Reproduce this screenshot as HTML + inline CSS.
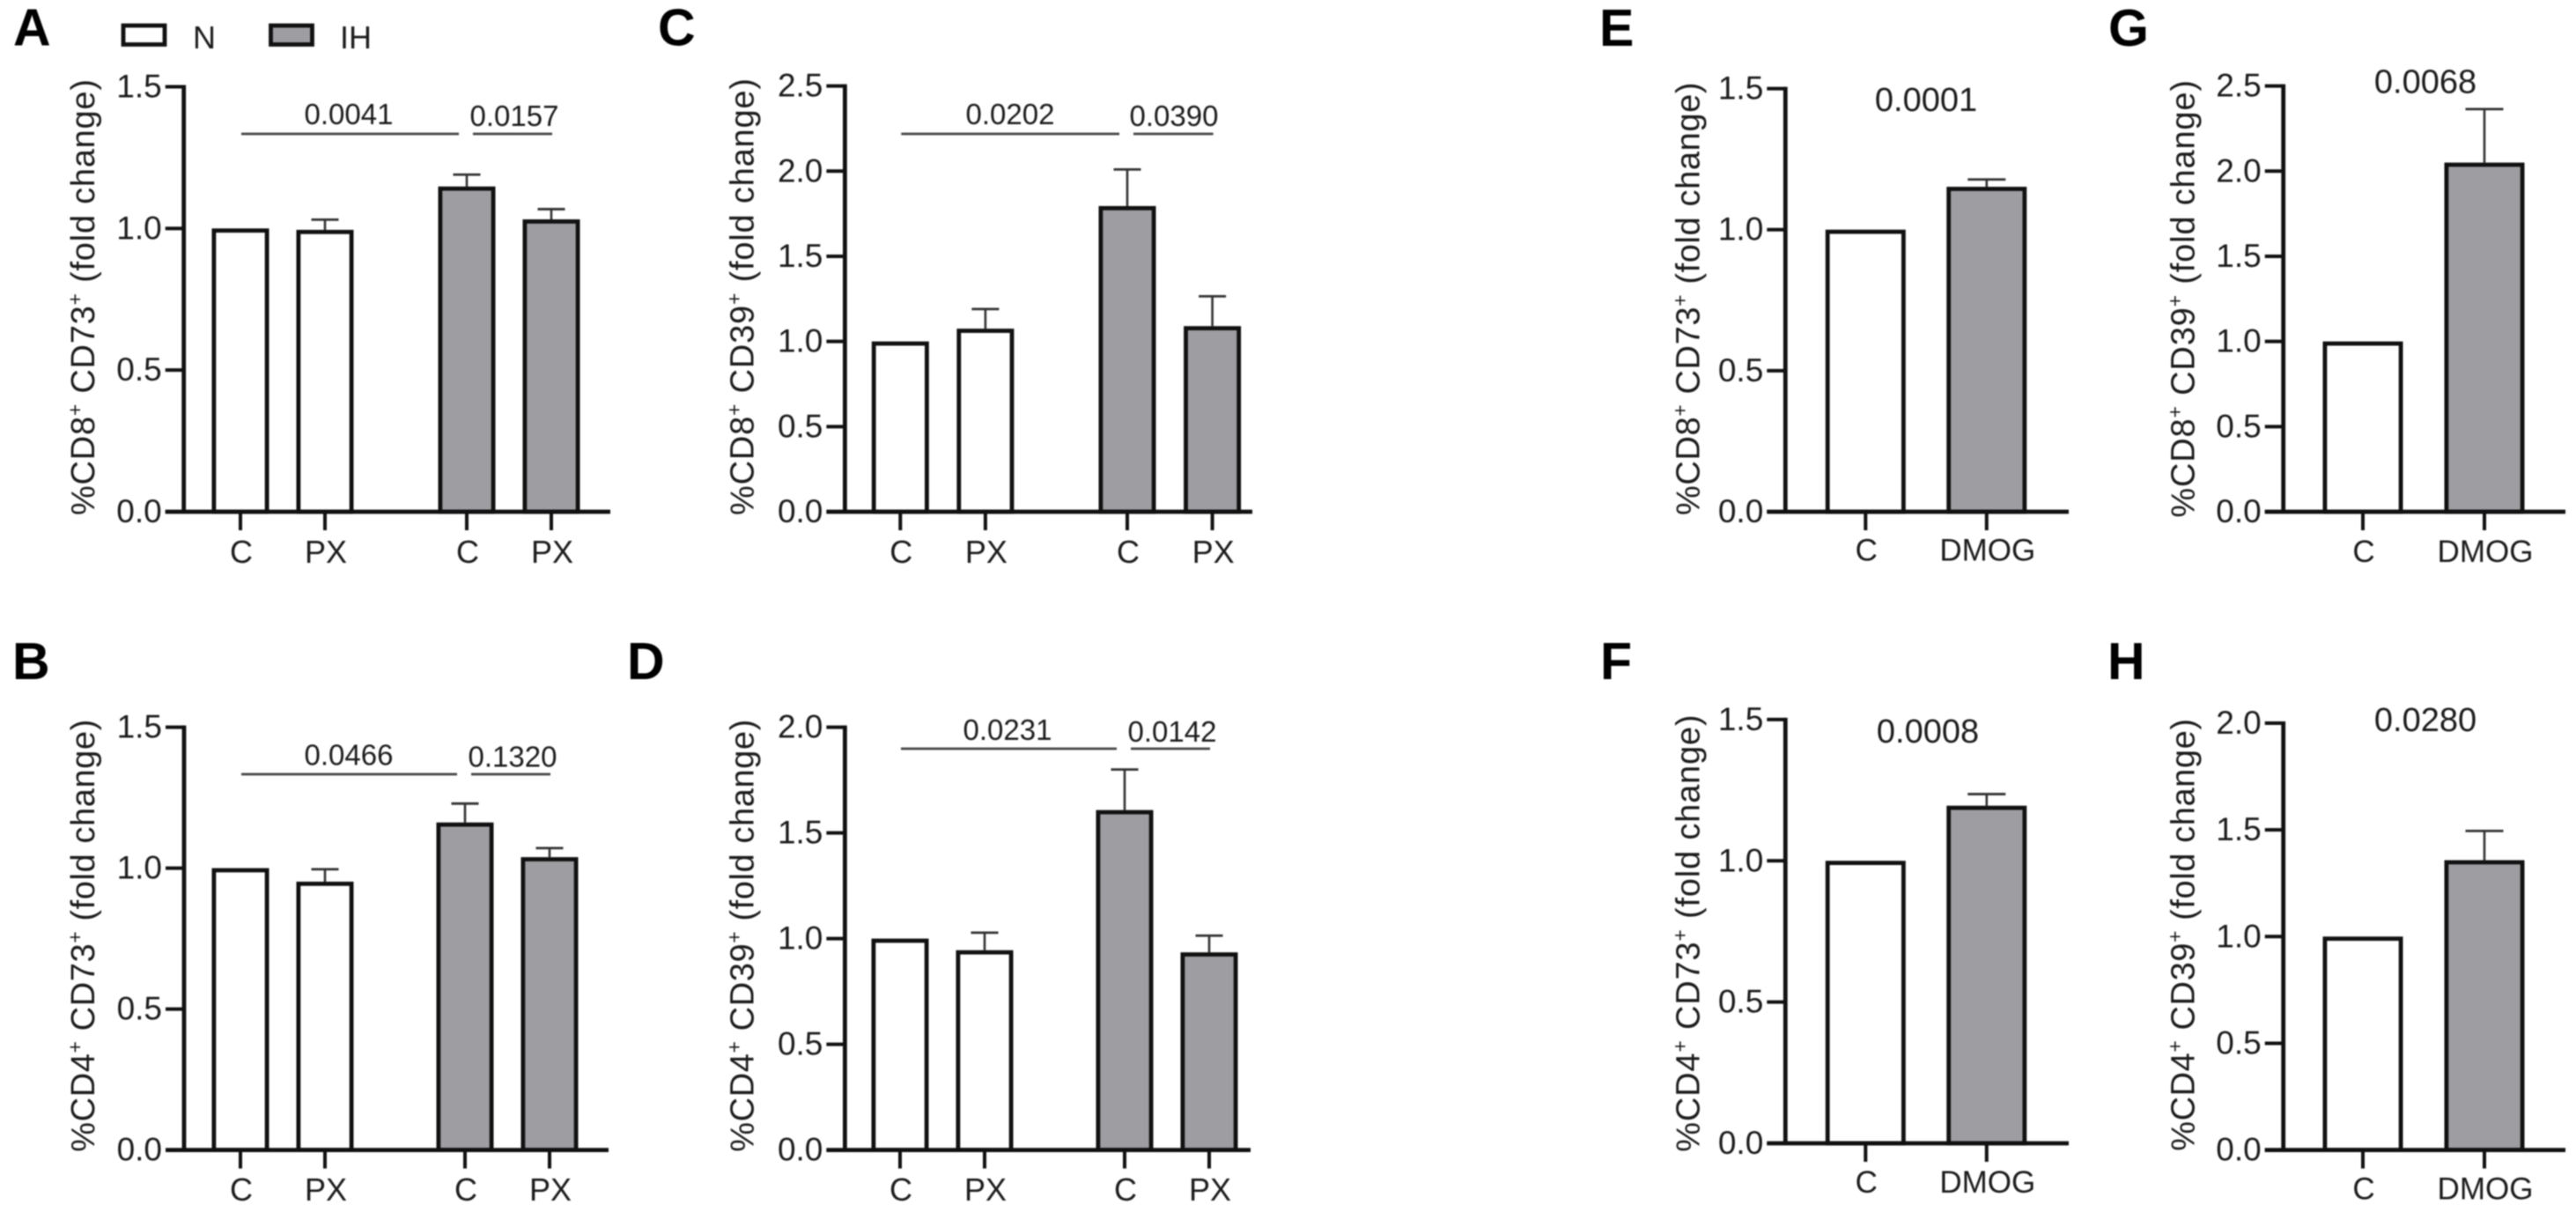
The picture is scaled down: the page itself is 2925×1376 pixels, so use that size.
<!DOCTYPE html>
<html lang="en">
<head>
<meta charset="utf-8">
<title>CD73 and CD39 fold change bar charts</title>
<style>
  html, body { margin: 0; padding: 0; background: #fff; }
  svg { display: block; filter: blur(0.7px); }
  text { font-family: "Liberation Sans", Arial, sans-serif; fill: #1c1c1c; }
  .letter { font-weight: 700; font-size: 59px; fill: #000; }
</style>
</head>
<body>
<svg id="figure" xmlns="http://www.w3.org/2000/svg" width="2925" height="1376" viewBox="0 0 2925 1376">
  <rect x="0" y="0" width="2925" height="1376" fill="#fff"/>

  <g>
    <rect x="140" y="29" width="47" height="21.5" fill="#fff" stroke="#111" stroke-width="4.8"/>
    <text x="219" y="55" font-size="36">N</text>
    <rect x="307.5" y="29" width="47" height="21.5" fill="#9e9ea2" stroke="#111" stroke-width="4.8"/>
    <text x="386" y="55" font-size="36">IH</text>
  </g>

  <text class="letter" x="15" y="51.5">A</text>
  <text class="letter" x="14" y="771">B</text>
  <text class="letter" x="747" y="51.5">C</text>
  <text class="letter" x="712" y="771">D</text>
  <text class="letter" x="1816" y="52">E</text>
  <text class="letter" x="1817" y="771">F</text>
  <text class="letter" x="2394" y="52">G</text>
  <text class="letter" x="2393" y="771">H</text>

  <g id="panel-a"></g>
  <g id="panel-b"></g>
  <g id="panel-c"></g>
  <g id="panel-d"></g>
  <g id="panel-e"></g>
  <g id="panel-f"></g>
  <g id="panel-g"></g>
  <g id="panel-h"></g>
</svg>

<script>
// ---- categories and tick labels ----
const pxCategories = ['C', 'PX', 'C', 'PX'];
const pxGroups = ['N', 'N', 'IH', 'IH'];
const dmogCategories = ['C', 'DMOG'];
const dmogGroups = ['N', 'IH'];
const ticks15 = ['0.0', '0.5', '1.0', '1.5'];
const ticks20 = ['0.0', '0.5', '1.0', '1.5', '2.0'];
const ticks25 = ['0.0', '0.5', '1.0', '1.5', '2.0', '2.5'];

// ---- series values (mean) and upper error limits ----
const panelAValues = [1.0, 0.995, 1.148, 1.032];
const panelAErrors = [null, 1.031, 1.19, 1.068];
const panelAPValues = ['0.0041', '0.0157'];

const panelBValues = [1.0, 0.952, 1.162, 1.039];
const panelBErrors = [null, 0.996, 1.229, 1.071];
const panelBPValues = ['0.0466', '0.1320'];

const panelCValues = [1.0, 1.075, 1.795, 1.09];
const panelCErrors = [null, 1.19, 2.01, 1.265];
const panelCPValues = ['0.0202', '0.0390'];

const panelDValues = [1.0, 0.945, 1.608, 0.935];
const panelDErrors = [null, 1.028, 1.80, 1.014];
const panelDPValues = ['0.0231', '0.0142'];

const panelEValues = [1.0, 1.152];
const panelEErrors = [null, 1.178];
const panelEPValues = ['0.0001'];

const panelFValues = [1.0, 1.195];
const panelFErrors = [null, 1.236];
const panelFPValues = ['0.0008'];

const panelGValues = [1.0, 2.05];
const panelGErrors = [null, 2.364];
const panelGPValues = ['0.0068'];

const panelHValues = [1.0, 1.358];
const panelHErrors = [null, 1.495];
const panelHPValues = ['0.0280'];

// ---- drawing helpers ----
const NS = 'http://www.w3.org/2000/svg';
const groupFill = { N: '#ffffff', IH: '#9e9ea2' };

function make(tag, attrs, parent) {
  const el = document.createElementNS(NS, tag);
  for (const k in attrs) el.setAttribute(k, attrs[k]);
  parent.appendChild(el);
  return el;
}

function drawPanel(id, data, layout) {
  const root = document.getElementById(id);
  const yScale = function (v) {
    return layout.yBase - (v / data.yMax) * (layout.yBase - layout.yTop);
  };
  const xScale = function (i) {
    return layout.first + i * layout.step + (i >= 2 ? layout.gap : 0);
  };
  const inset = 2.4;

  // bars
  data.values.forEach(function (v, i) {
    const cx = xScale(i);
    const w = layout.barWidth;
    const top = yScale(v);
    const err = data.errors[i];
    if (err !== null) {
      const stem = make('line', { x1: cx, x2: cx, y1: yScale(err), y2: top, stroke: '#333', 'stroke-width': 2.6 }, root);
      
      
      const cap = make('line', { x1: cx - layout.capHalf, x2: cx + layout.capHalf, y1: yScale(err), y2: yScale(err), stroke: '#333', 'stroke-width': 2.8 }, root);
      
      
    }
    const bar = make('rect', {
      x: cx - w / 2 + inset, y: top + inset,
      width: w - 2 * inset, height: layout.yBase - top - inset,
      fill: groupFill[data.groups[i]], stroke: '#111', 'stroke-width': 4.8
    }, root);
    
    

    const tick = make('line', { x1: cx, x2: cx, y1: layout.yBase, y2: layout.yBase + 21, stroke: '#111', 'stroke-width': 4 }, root);
    
    
    const label = make('text', { x: cx + 1, y: layout.xLabelY, 'text-anchor': 'middle', 'font-size': layout.xFont }, root);
    label.textContent = data.categories[i];
    
    
  });

  // axes
  const yAxis = make('line', { x1: layout.axisX, x2: layout.axisX, y1: layout.yTop - 2, y2: layout.yBase + 2, stroke: '#111', 'stroke-width': 4.8 }, root);
  
  
  const xAxis = make('line', { x1: layout.axisX - 21, x2: layout.axisRight, y1: layout.yBase, y2: layout.yBase, stroke: '#111', 'stroke-width': 4.8 }, root);
  
  

  data.ticks.forEach(function (t) {
    const y = yScale(parseFloat(t));
    const tick = make('line', { x1: layout.axisX - 21, x2: layout.axisX, y1: y, y2: y, stroke: '#111', 'stroke-width': 4 }, root);
    
    
    const label = make('text', { x: layout.axisX - 25, y: y + 12, 'text-anchor': 'end', 'font-size': 37 }, root);
    label.textContent = t;
    
    
  });

  // y axis title
  const title = make('text', {
    x: layout.titleX, y: layout.titleBottom,
    transform: 'rotate(-90 ' + layout.titleX + ' ' + layout.titleBottom + ')',
    'font-size': 38, textLength: layout.titleBottom - layout.titleTop, lengthAdjust: 'spacing'
  }, root);
  
  
  const t1 = make('tspan', {}, title);
  t1.textContent = '%' + data.cell;
  const s1 = make('tspan', { dy: -14, 'font-size': 23 }, title);
  s1.textContent = '+';
  const t2 = make('tspan', { dy: 14 }, title);
  t2.textContent = ' ' + data.marker;
  const s2 = make('tspan', { dy: -14, 'font-size': 23 }, title);
  s2.textContent = '+';
  const t3 = make('tspan', { dy: 14 }, title);
  t3.textContent = ' (fold change)';

  // significance annotations
  if (data.pValues.length === 2) {
    const first = make('line', { x1: xScale(0) + 1, x2: xScale(2) - 9, y1: layout.sigY, y2: layout.sigY, stroke: '#444', 'stroke-width': 2.8 }, root);
    
    
    const second = make('line', { x1: xScale(2) + 7, x2: xScale(3) + 1, y1: layout.sigY, y2: layout.sigY, stroke: '#444', 'stroke-width': 2.8 }, root);
    
    
    const p1 = make('text', { x: layout.pX1, y: layout.pY1, 'text-anchor': 'middle', 'font-size': 33 }, root);
    p1.textContent = data.pValues[0];
    
    
    const p2 = make('text', { x: layout.pX2, y: layout.pY2, 'text-anchor': 'middle', 'font-size': 33 }, root);
    p2.textContent = data.pValues[1];
    
    
  } else {
    const p = make('text', { x: layout.pX1, y: layout.pY1, 'text-anchor': 'middle', 'font-size': 38 }, root);
    p.textContent = data.pValues[0];
    
    
  }
}

drawPanel('panel-a',
  { values: panelAValues, errors: panelAErrors, pValues: panelAPValues, categories: pxCategories, groups: pxGroups, ticks: ticks15, yMax: 1.5, cell: 'CD8', marker: 'CD73' },
  { axisX: 208.7, axisRight: 693, yTop: 98.5, yBase: 581, first: 273, step: 96, gap: 65, barWidth: 65, capHalf: 15.5, xLabelY: 639, xFont: 36, titleX: 107, titleBottom: 585, titleTop: 90, sigY: 152, pX1: 396, pY1: 141, pX2: 584, pY2: 143 });

drawPanel('panel-b',
  { values: panelBValues, errors: panelBErrors, pValues: panelBPValues, categories: pxCategories, groups: pxGroups, ticks: ticks15, yMax: 1.5, cell: 'CD4', marker: 'CD73' },
  { axisX: 209, axisRight: 691, yTop: 825.6, yBase: 1305.6, first: 273, step: 96, gap: 63, barWidth: 65, capHalf: 15.5, xLabelY: 1363, xFont: 36, titleX: 107, titleBottom: 1307.7, titleTop: 816.7, sigY: 879, pX1: 396, pY1: 868.5, pX2: 582, pY2: 870.6 });

drawPanel('panel-c',
  { values: panelCValues, errors: panelCErrors, pValues: panelCPValues, categories: pxCategories, groups: pxGroups, ticks: ticks25, yMax: 2.5, cell: 'CD8', marker: 'CD39' },
  { axisX: 959.4, axisRight: 1422, yTop: 97.6, yBase: 581, first: 1022.3, step: 96.6, gap: 64.5, barWidth: 65, capHalf: 15.5, xLabelY: 639, xFont: 36, titleX: 855.5, titleBottom: 585, titleTop: 89, sigY: 152, pX1: 1147, pY1: 141, pX2: 1333, pY2: 143 });

drawPanel('panel-d',
  { values: panelDValues, errors: panelDErrors, pValues: panelDPValues, categories: pxCategories, groups: pxGroups, ticks: ticks20, yMax: 2.0, cell: 'CD4', marker: 'CD39' },
  { axisX: 959.4, axisRight: 1420, yTop: 825.6, yBase: 1305.6, first: 1022, step: 96, gap: 63, barWidth: 65, capHalf: 15.5, xLabelY: 1363, xFont: 36, titleX: 855.5, titleBottom: 1307.7, titleTop: 816.7, sigY: 850, pX1: 1144, pY1: 840, pX2: 1331, pY2: 842 });

drawPanel('panel-e',
  { values: panelEValues, errors: panelEErrors, pValues: panelEPValues, categories: dmogCategories, groups: dmogGroups, ticks: ticks15, yMax: 1.5, cell: 'CD8', marker: 'CD73' },
  { axisX: 2027.3, axisRight: 2349, yTop: 100.6, yBase: 581, first: 2118.3, step: 137.5, gap: 0, barWidth: 91, capHalf: 21.5, xLabelY: 636.7, xFont: 35, titleX: 1929.5, titleBottom: 585, titleTop: 93.5, pX1: 2187, pY1: 126 });

drawPanel('panel-f',
  { values: panelFValues, errors: panelFErrors, pValues: panelFPValues, categories: dmogCategories, groups: dmogGroups, ticks: ticks15, yMax: 1.5, cell: 'CD4', marker: 'CD73' },
  { axisX: 2027.3, axisRight: 2349, yTop: 816.9, yBase: 1298, first: 2118.3, step: 137.5, gap: 0, barWidth: 91, capHalf: 21.5, xLabelY: 1354, xFont: 35, titleX: 1929.5, titleBottom: 1307.7, titleTop: 811.5, pX1: 2189, pY1: 843 });

drawPanel('panel-g',
  { values: panelGValues, errors: panelGErrors, pValues: panelGPValues, categories: dmogCategories, groups: dmogGroups, ticks: ticks25, yMax: 2.5, cell: 'CD8', marker: 'CD39' },
  { axisX: 2592.7, axisRight: 2913, yTop: 97.6, yBase: 581, first: 2683, step: 138, gap: 0, barWidth: 91, capHalf: 21.5, xLabelY: 638, xFont: 35, titleX: 2491.5, titleBottom: 587.6, titleTop: 91, pX1: 2754, pY1: 105.4 });

drawPanel('panel-h',
  { values: panelHValues, errors: panelHErrors, pValues: panelHPValues, categories: dmogCategories, groups: dmogGroups, ticks: ticks20, yMax: 2.0, cell: 'CD4', marker: 'CD39' },
  { axisX: 2592.7, axisRight: 2913, yTop: 821, yBase: 1305.6, first: 2683, step: 138, gap: 0, barWidth: 91, capHalf: 21.5, xLabelY: 1361.5, xFont: 35, titleX: 2491.5, titleBottom: 1306.8, titleTop: 816, pX1: 2754, pY1: 830 });
</script>
</body>
</html>
